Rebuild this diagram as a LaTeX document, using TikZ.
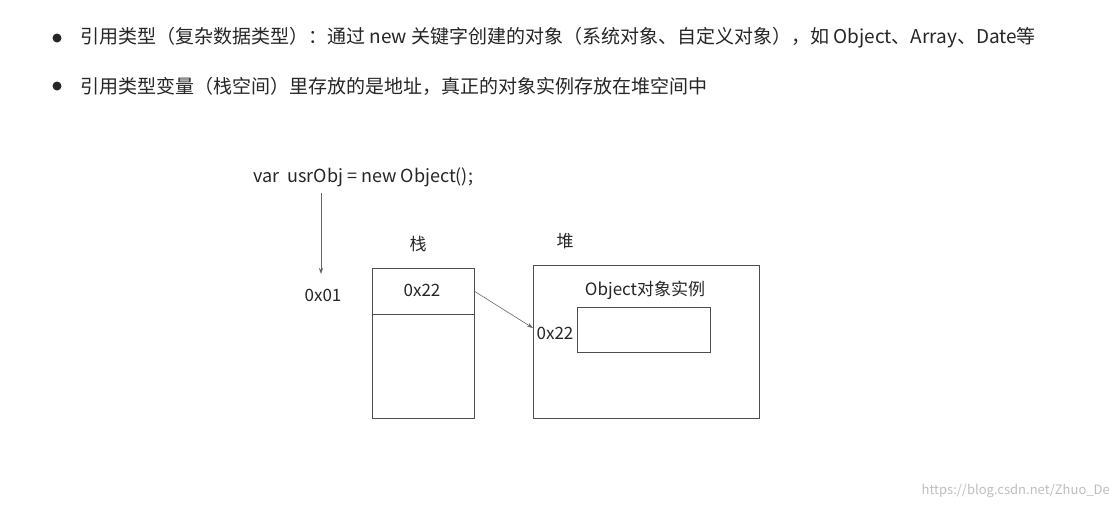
\documentclass[tikz,border=0pt]{standalone}
\usepackage{fontspec}
\setmainfont{Noto Sans CJK SC}
\usetikzlibrary{arrows.meta}
\begin{document}
\begin{tikzpicture}[x=1pt,y=-1pt,
  box/.style={draw=black!70,line width=0.7pt},
  txt/.style={font=\fontsize{17}{20}\selectfont,text=black!85,inner sep=0},
  btxt/.style={font=\fontsize{19}{22}\selectfont,text=black!85,anchor=west,inner sep=0},
  arr/.style={draw=black!60,line width=0.6pt,-{Stealth[length=6pt,width=4pt]}}]
\useasboundingbox[fill=white] (0,0) rectangle (1119,509);
\fill[black!85] (57,38) circle (4.5);
\fill[black!85] (57,86) circle (4.5);
\node[btxt] (b1) at (80,38) {引用类型（复杂数据类型）：通过 new 关键字创建的对象（系统对象、自定义对象），如 Object、Array、Date等};
\node[btxt] (b2) at (80,86) {引用类型变量（栈空间）里存放的是地址，真正的对象实例存放在堆空间中};
\node[txt,anchor=west,font=\fontsize{18}{21}\selectfont] (code) at (253,177) {var\ \ usrObj = new Object();};
\coordinate (a1) at (321,193);
\node[txt] (addr1) at (323,295) {0x01};
\draw[arr] (a1) -- (321,274);
\node[txt] (zhan) at (418,244) {栈};
\node[box,minimum width=102,minimum height=150,inner sep=0,anchor=north west] (stack) at (372,268) {};
\draw[box] (372,314) -- (474,314);
\node[txt] (v22) at (422,290) {0x22};
\node[txt] (dui) at (565,241) {堆};
\node[box,minimum width=226,minimum height=153,inner sep=0,anchor=north west] (heap) at (533,265) {};
\node[txt] (objt) at (645,290) {Object对象实例};
\node[box,minimum width=133,minimum height=45,inner sep=0,anchor=north west] (inner) at (577,307) {};
\node[txt] (h22) at (555,333) {0x22};
\coordinate (s) at (474,291);
\draw[arr] (s) -- (heap.west |- 0,328);
\node[font=\fontsize{13}{15}\selectfont,text=black!25,anchor=east,inner sep=0] (wm) at (1110,491) {https://blog.csdn.net/Zhuo\_De};
\end{tikzpicture}
\end{document}
